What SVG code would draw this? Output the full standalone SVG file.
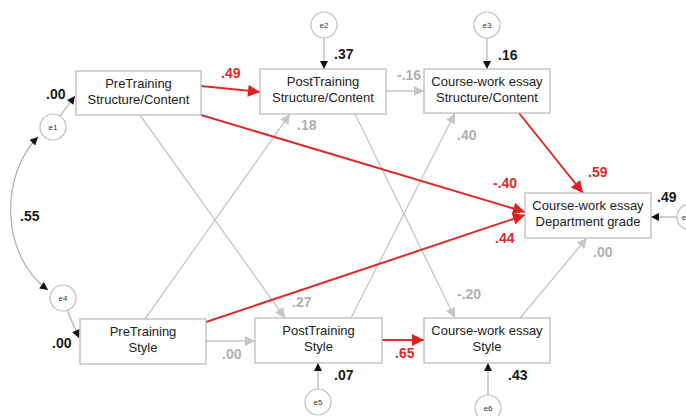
<svg xmlns="http://www.w3.org/2000/svg" width="686" height="416" viewBox="0 0 686 416">
<style>
.box{fill:#fff;stroke:#b8b8b8;stroke-width:1.2}
.err{fill:#fff;stroke:#bdbdbd;stroke-width:1.2}
.bt{font-family:"Liberation Sans",Arial,sans-serif;font-size:13px;fill:#222;text-anchor:middle}
.et{font-family:"Liberation Sans",Arial,sans-serif;font-size:8px;fill:#333;text-anchor:middle}
.lb{font-family:"Liberation Sans",Arial,sans-serif;font-size:14px;font-weight:bold}
.k{fill:#1a1a1a}.r{fill:#e02a2a}.g{fill:#b0b0b0}
.lg{stroke:#c6c6c6;stroke-width:1.3;fill:none;marker-end:url(#ag)}
.lr{stroke:#e02a2a;stroke-width:2;fill:none;marker-end:url(#ar)}
.lk{stroke:#b0b0b0;stroke-width:1.2;fill:none;marker-end:url(#ak)}
</style>
<defs>
<marker id="ag" viewBox="0 0 10 10" refX="10" refY="5" markerWidth="12" markerHeight="10" markerUnits="userSpaceOnUse" orient="auto"><path d="M0,0 L10,5 L0,10 z" fill="#c6c6c6"/></marker>
<marker id="ar" viewBox="0 0 10 10" refX="10" refY="5" markerWidth="14" markerHeight="12" markerUnits="userSpaceOnUse" orient="auto"><path d="M0,0 L10,5 L0,10 z" fill="#e31e1e"/></marker>
<marker id="ak" viewBox="0 0 10 10" refX="10" refY="5" markerWidth="10" markerHeight="8" markerUnits="userSpaceOnUse" orient="auto-start-reverse"><path d="M0,0 L10,5 L0,10 z" fill="#111"/></marker>
</defs>
<g id="connectors">
<path class="lk" d="M60,116 L75,96"/>
<path class="lk" d="M38,137 C0,175 0,255 48,290" style="marker-start:url(#ak)"/>
<path class="lk" d="M67,310 L79,338"/>
<path class="lk" d="M324,38 L324,69"/>
<path class="lk" d="M487,38 L487,69"/>
<path class="lk" d="M318,389 L318,363"/>
<path class="lk" d="M488,395 L488,363"/>
<path class="lk" d="M677,217 L651,217"/>
<path class="lg" d="M140,115 L285,318"/>
<path class="lg" d="M145,319 L290,114"/>
<path class="lg" d="M355,114 L455,318"/>
<path class="lg" d="M351,318 L455,113"/>
<path class="lg" d="M386,91 L424,91"/>
<path class="lg" d="M206,341 L255,341"/>
<path class="lg" d="M520,318 L587,238"/>
<path class="lr" d="M201,86 L260,92"/>
<path class="lr" d="M201,115 L525,212"/>
<path class="lr" d="M206,322 L525,215"/>
<path class="lr" d="M519,113 L583,193"/>
<path class="lr" d="M382,340 L424,340"/>
</g>
<g id="pre_sc"><rect class="box" x="76" y="71" width="125" height="44"/><text class="bt" x="138.5" y="88">PreTraining</text><text class="bt" x="138.5" y="104">Structure/Content</text></g>
<g id="post_sc"><rect class="box" x="260" y="69" width="126" height="45"/><text class="bt" x="323" y="86">PostTraining</text><text class="bt" x="323" y="102">Structure/Content</text></g>
<g id="cw_sc"><rect class="box" x="424" y="69" width="126" height="44"/><text class="bt" x="487" y="86">Course-work essay</text><text class="bt" x="487" y="102">Structure/Content</text></g>
<g id="cw_dept"><rect class="box" x="525" y="193" width="126" height="45"/><text class="bt" x="588" y="210">Course-work essay</text><text class="bt" x="588" y="226">Department grade</text></g>
<g id="pre_st"><rect class="box" x="80" y="319" width="126" height="45"/><text class="bt" x="143" y="336">PreTraining</text><text class="bt" x="143" y="352">Style</text></g>
<g id="post_st"><rect class="box" x="255" y="318" width="127" height="45"/><text class="bt" x="318.5" y="335">PostTraining</text><text class="bt" x="318.5" y="351">Style</text></g>
<g id="cw_st"><rect class="box" x="424" y="318" width="126" height="45"/><text class="bt" x="487" y="335">Course-work essay</text><text class="bt" x="487" y="351">Style</text></g>
<g id="e1"><circle class="err" cx="53" cy="127" r="13"/><text class="et" x="53" y="130">e1</text></g>
<g id="e2"><circle class="err" cx="324" cy="25" r="13"/><text class="et" x="324" y="28">e2</text></g>
<g id="e3"><circle class="err" cx="487" cy="25" r="13"/><text class="et" x="487" y="28">e3</text></g>
<g id="e4"><circle class="err" cx="63" cy="298" r="13"/><text class="et" x="63" y="301">e4</text></g>
<g id="e5"><circle class="err" cx="318" cy="402" r="13"/><text class="et" x="318" y="405">e5</text></g>
<g id="e6"><circle class="err" cx="488" cy="408" r="13"/><text class="et" x="488" y="411">e6</text></g>
<g id="e7"><circle class="err" cx="690" cy="217" r="13"/><text class="et" x="684" y="220">e</text></g>
<g id="labels">
<text class="lb k" x="46" y="99">.00</text>
<text class="lb r" x="221" y="78">.49</text>
<text class="lb k" x="334" y="59">.37</text>
<text class="lb g" x="397" y="80">-.16</text>
<text class="lb g" x="297" y="130">.18</text>
<text class="lb k" x="498" y="60">.16</text>
<text class="lb g" x="457" y="140">.40</text>
<text class="lb r" x="588" y="177">.59</text>
<text class="lb r" x="493" y="188">-.40</text>
<text class="lb k" x="657" y="202">.49</text>
<text class="lb r" x="495" y="243">.44</text>
<text class="lb g" x="593" y="257">.00</text>
<text class="lb k" x="20" y="221">.55</text>
<text class="lb g" x="292" y="307">.27</text>
<text class="lb g" x="457" y="299">-.20</text>
<text class="lb k" x="52" y="348">.00</text>
<text class="lb g" x="222" y="359">.00</text>
<text class="lb r" x="395" y="358">.65</text>
<text class="lb k" x="334" y="380">.07</text>
<text class="lb k" x="508" y="380">.43</text>
</g>
</svg>
